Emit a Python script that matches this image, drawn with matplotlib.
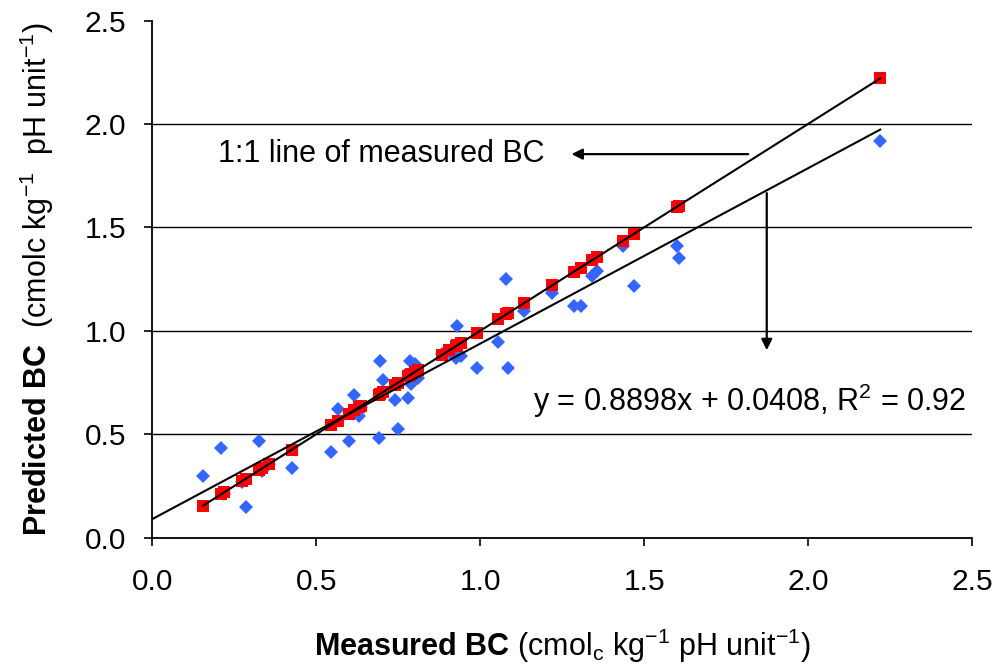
import matplotlib
matplotlib.use("Agg")
import matplotlib.pyplot as plt
import numpy as np

plt.rcParams['font.family'] = ['Liberation Sans', 'DejaVu Sans']
plt.rcParams['mathtext.fontset'] = 'custom'
plt.rcParams['mathtext.rm'] = 'Liberation Sans'
plt.rcParams['mathtext.bf'] = 'Liberation Sans:bold'
plt.rcParams['mathtext.it'] = 'Liberation Sans:italic'

# Measured BC (x) and predicted BC (y)
measured = [0.155, 0.21, 0.22, 0.275, 0.285, 0.325, 0.335, 0.355, 0.425, 0.545,
            0.565, 0.60, 0.615, 0.63, 0.635, 0.69, 0.695, 0.705, 0.74, 0.75,
            0.78, 0.785, 0.79, 0.80, 0.81, 0.885, 0.905, 0.925, 0.93, 0.94,
            0.99, 1.055, 1.08, 1.085, 1.133, 1.22, 1.286, 1.306, 1.34, 1.355,
            1.435, 1.47, 1.60, 1.605, 2.22]
predicted = [0.30, 0.435, 0.21, 0.27, 0.148, 0.466, 0.32, 0.357, 0.338, 0.415,
             0.62, 0.466, 0.69, 0.587, 0.63, 0.482, 0.856, 0.76, 0.667, 0.524,
             0.675, 0.855, 0.745, 0.84, 0.77, 0.886, 0.90, 0.87, 1.023, 0.878,
             0.822, 0.947, 1.252, 0.822, 1.095, 1.185, 1.119, 1.119, 1.263, 1.287,
             1.412, 1.215, 1.41, 1.351, 1.917]

# trend line as drawn in the chart
trend_slope = 0.848
trend_intercept = 0.09
equation_text = "y = 0.8898x + 0.0408, R$^2$ = 0.92"
oneone_text = "1:1 line of measured BC"

x_ticks = [0.0, 0.5, 1.0, 1.5, 2.0, 2.5]
y_ticks = [0.0, 0.5, 1.0, 1.5, 2.0, 2.5]

fig = plt.figure(figsize=(9.97, 6.66), dpi=100)
ax = fig.add_axes([152.3 / 997, 1 - 537.7 / 666, (972 - 152.3) / 997, (537.7 - 20.5) / 666])

meas = np.array(measured)
pred = np.array(predicted)

ax.plot(meas, pred, linestyle='none', marker='D', markersize=7.3,
        color='#3366FF', markeredgewidth=0, zorder=3)
ax.plot(meas, meas, linestyle='none', marker='s', markersize=9.0,
        color='#FF0000', markeredgewidth=0, zorder=4)

# 1:1 line
xl = np.array([meas.min(), meas.max()])
ax.plot(xl, xl, color='black', lw=1.5, zorder=5)
# trend line
xt = np.array([0.0, meas.max()])
ax.plot(xt, trend_slope * xt + trend_intercept, color='black', lw=1.5, zorder=5)

ax.set_xlim(0, 2.5)
ax.set_ylim(0, 2.5)
ax.set_xticks(x_ticks)
ax.set_yticks(y_ticks)
ax.set_xticklabels([f"{t:.1f}" for t in x_ticks])
ax.set_yticklabels([f"{t:.1f}" for t in y_ticks])
ax.tick_params(axis='both', direction='out', length=6, width=1.2, labelsize=21.5)
ax.tick_params(axis='x', pad=16)
ax.tick_params(axis='y', pad=13)

for y in [0.5, 1.0, 1.5, 2.0]:
    ax.axhline(y, color='black', lw=1.0, zorder=1)

for s in ['top', 'right']:
    ax.spines[s].set_visible(False)
for s in ['left', 'bottom']:
    ax.spines[s].set_linewidth(1.3)

ax.set_xlabel(r'$\mathbf{Measured\ BC}$ (cmol$_\mathrm{c}$ kg$^{-1}$ pH unit$^{-1}$)',
              fontsize=22, labelpad=22)
ax.set_ylabel(r'$\mathbf{Predicted\ BC}$  (cmolc kg$^{-1}$  pH unit$^{-1}$)',
              fontsize=22)
ax.yaxis.set_label_coords(-0.118, 0.5)

# annotations
ax.text(0.201, 1.854, oneone_text, fontsize=22, va='center', ha='left')
ax.annotate('', xy=(1.27, 1.854), xytext=(1.826, 1.854),
            arrowprops=dict(arrowstyle='-|>', color='black', lw=1.6, mutation_scale=16))
ax.annotate('', xy=(1.874, 0.893), xytext=(1.874, trend_slope * 1.874 + trend_intercept),
            arrowprops=dict(arrowstyle='-|>', color='black', lw=1.6, mutation_scale=16))
ax.text(2.482, 0.662, equation_text, fontsize=22, va='center', ha='right')

fig.savefig('out.png', dpi=100)
